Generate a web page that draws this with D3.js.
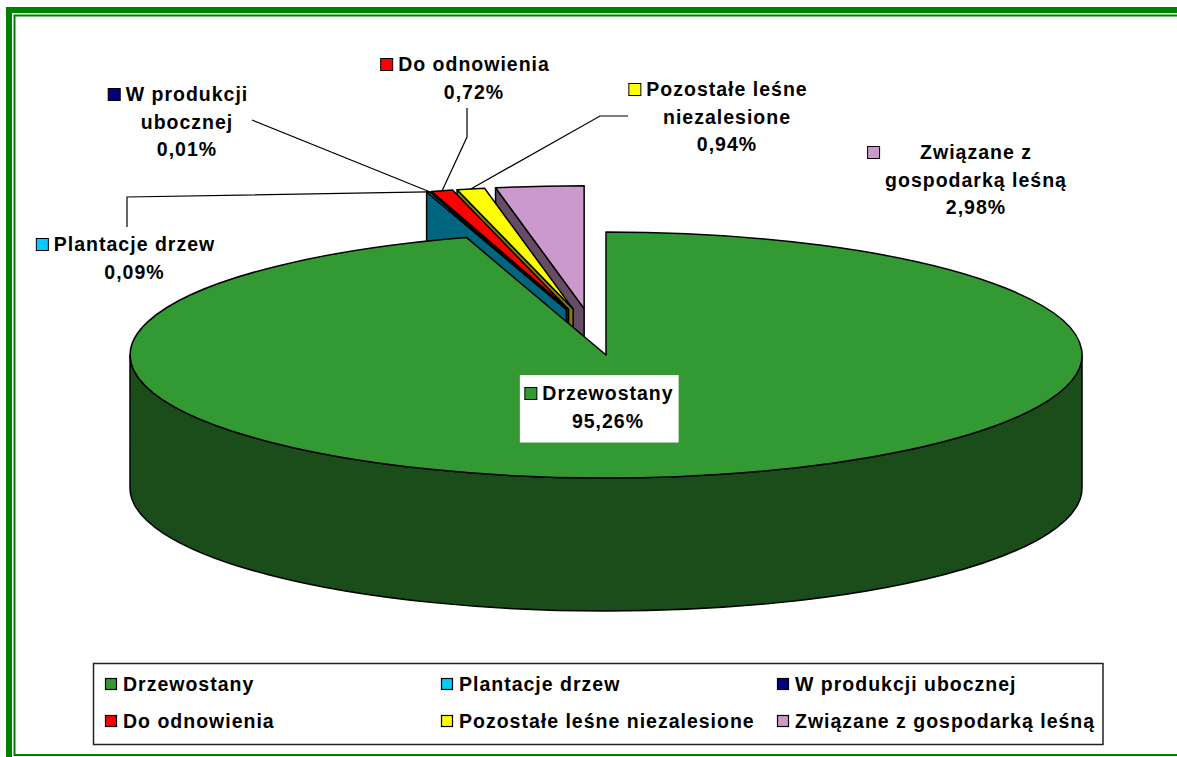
<!DOCTYPE html>
<html>
<head>
<meta charset="utf-8">
<script src="https://cdn.jsdelivr.net/npm/d3@7"></script>
<style>
  html, body { margin:0; padding:0; background:#fff; }
  svg { display:block; }
  text { font-family:"Liberation Sans", Arial, sans-serif; font-weight:bold; font-size:19.5px; letter-spacing:1px; fill:#000; }
</style>
</head>
<body>
<div id="chart"></div>
<script>
// Forest land structure — exploded 3D pie (D3)

// ---- data ----
const categories = ["Drzewostany", "Plantacje drzew", "W produkcji ubocznej",
                    "Do odnowienia", "Pozostałe leśne niezalesione", "Związane z gospodarką leśną"];
const shares = [95.26, 0.09, 0.01, 0.72, 0.94, 2.98];
// how each data label wraps on the chart
const labelLines = [["Drzewostany"], ["Plantacje drzew"], ["W produkcji", "ubocznej"],
                    ["Do odnowienia"], ["Pozostałe leśne", "niezalesione"], ["Związane z", "gospodarką leśną"]];
const colors = ["#339933", "#00CCFF", "#000080", "#FF0000", "#FFFF00", "#CC99CC"];

const width = 1177, height = 757;
const svg = d3.select("#chart").append("svg")
  .attr("width", width).attr("height", height);

// double green frame (runs off the right/bottom edge)
svg.append("rect").attr("x", 9).attr("y", 10).attr("width", width).attr("height", height + 20)
  .attr("fill", "none").attr("stroke", "#008000").attr("stroke-width", 6);
svg.append("rect").attr("x", 14.5).attr("y", 15.5).attr("width", width).attr("height", 739.5)
  .attr("fill", "none").attr("stroke", "#008000").attr("stroke-width", 2);

// pie geometry
const cx = 592.6, cy = 331.9, rx = 476, ry = 123, depth = 133, explode = 0.19;
const xs = d3.scaleLinear().domain([-1, 1]).range([cx - rx, cx + rx]);
const ys = d3.scaleLinear().domain([-1, 1]).range([cy - ry, cy + ry]);

const plFmt = d3.formatLocale({decimal: ",", thousands: " ", grouping: [3], currency: ["", ""]}).format(".2f");
const shade = c => { const r = d3.rgb(c); return d3.rgb(r.r * 0.5, r.g * 0.5, r.b * 0.5).formatHex(); };

const slices = d3.pie().sort(null).value(d => d)(shares).map((a, i) => {
  const mid = (a.startAngle + a.endAngle) / 2;
  return {...a, i, mid, ox: explode * Math.sin(mid), oy: -explode * Math.cos(mid)};
});

const center = (d, dz = 0) => [xs(d.ox), ys(d.oy) + dz];
const rim = (d, ang, dz = 0) => [xs(d.ox + Math.sin(ang)), ys(d.oy - Math.cos(ang)) + dz];
const P = p => p[0].toFixed(2) + "," + p[1].toFixed(2);

const pieG = svg.append("g")
  .attr("stroke", "#000").attr("stroke-width", 1.5).attr("stroke-linejoin", "round");

// paint back slices first (small ones sit behind, near 12 o'clock)
slices.slice().reverse().forEach(d => {
  const top = colors[d.i], side = shade(colors[d.i]);
  const a0 = d.startAngle, a1 = d.endAngle;

  // radial cut faces that face the viewer
  if (Math.sin(a0) < -1e-6) {
    pieG.append("path").attr("fill", side)
      .attr("d", `M${P(center(d))}L${P(rim(d, a0))}L${P(rim(d, a0, depth))}L${P(center(d, depth))}Z`);
  }
  if (Math.sin(a1) > 1e-6) {
    pieG.append("path").attr("fill", side)
      .attr("d", `M${P(center(d))}L${P(rim(d, a1))}L${P(rim(d, a1, depth))}L${P(center(d, depth))}Z`);
  }
  // outer wall, front half only
  const s = Math.max(a0, Math.PI / 2), e = Math.min(a1, 3 * Math.PI / 2);
  if (e > s) {
    pieG.append("path").attr("fill", side)
      .attr("d", `M${P(rim(d, s))}A${rx},${ry} 0 0 1 ${P(rim(d, e))}` +
                 `L${P(rim(d, e, depth))}A${rx},${ry} 0 0 0 ${P(rim(d, s, depth))}Z`);
  }
  // top face
  const large = (a1 - a0) > Math.PI ? 1 : 0;
  pieG.append("path").attr("fill", top)
    .attr("d", `M${P(center(d))}L${P(rim(d, a0))}A${rx},${ry} 0 ${large} 1 ${P(rim(d, a1))}Z`);
});

// ---- leader lines ----
const leaderStarts = {1: [[127, 227], [127, 197]], 2: [[252, 120]], 3: [[467, 108], [467, 137]], 4: [[628, 116], [600, 116]]};
const line = d3.line();
Object.entries(leaderStarts).forEach(([k, pts]) => {
  const d = slices[+k];
  svg.append("path").attr("fill", "none").attr("stroke", "#000").attr("stroke-width", 1.2)
    .attr("d", line([...pts, rim(d, d.mid)]));
});

// ---- data labels ----
const labelPos = [{x: 608, y: 400, box: true}, {x: 134.5, y: 251}, {x: 187, y: 101},
                  {x: 474, y: 71}, {x: 727, y: 96}, {x: 976, y: 159}];
const lineH = 27.5;

slices.forEach(d => {
  const pos = labelPos[d.i];
  const g = svg.append("g");
  const lines = [...labelLines[d.i], plFmt(shares[d.i]) + "%"];
  const texts = g.selectAll("text").data(lines).join("text")
    .attr("x", pos.x).attr("y", (_, j) => pos.y + j * lineH)
    .attr("text-anchor", "middle").text(t => t);
  // key square to the left of the widest line
  const left = d3.min(texts.nodes(), n => n.getBBox().x);
  g.append("rect").attr("x", left - 17.5).attr("y", pos.y - 12.5)
    .attr("width", 12).attr("height", 12)
    .attr("fill", colors[d.i]).attr("stroke", "#000").attr("stroke-width", 1);
  if (pos.box) {
    const bb = g.node().getBBox();
    g.insert("rect", ":first-child")
      .attr("x", bb.x - 5).attr("y", bb.y - 7)
      .attr("width", bb.width + 10).attr("height", bb.height + 18)
      .attr("fill", "#fff");
  }
});

// ---- legend ----
svg.append("rect").attr("x", 93.5).attr("y", 663.5).attr("width", 1009.5).attr("height", 81)
  .attr("fill", "#fff").attr("stroke", "#222").attr("stroke-width", 1.5);

const colX = d3.scaleBand().domain([0, 1, 2]).range([105, 1113]);
const rowY = d3.scaleBand().domain([0, 1]).range([691, 765]);

const items = svg.append("g").selectAll("g").data(categories).join("g")
  .attr("transform", (_, i) => `translate(${colX(i % 3)},${rowY(Math.floor(i / 3))})`);
items.append("rect").attr("x", 0.5).attr("y", -12.5).attr("width", 11).attr("height", 11)
  .attr("fill", (_, i) => colors[i]).attr("stroke", "#000").attr("stroke-width", 1.2);
items.append("text").attr("x", 18).attr("y", 0).text(d => d);
</script>
</body>
</html>
